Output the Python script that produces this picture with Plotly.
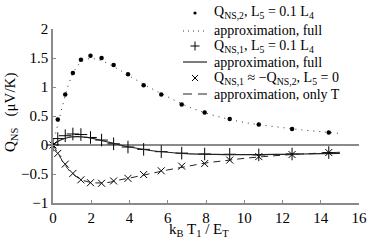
import plotly.graph_objects as go

# measured points (x positions shared by all three marker series)
x_pts = [0, 0.25, 0.64, 1.04, 1.46, 1.96, 2.54, 3.17, 3.92, 4.74, 5.66, 6.73, 7.93, 9.24, 10.76, 12.5, 14.42]
q2_full = [0, 0.44, 0.87, 1.24, 1.47, 1.54, 1.50, 1.38, 1.22, 1.03, 0.87, 0.70, 0.56, 0.45, 0.355, 0.275, 0.215]
q1_full = [0, 0.11, 0.16, 0.19, 0.18, 0.13, 0.085, 0.02, -0.035, -0.075, -0.115, -0.14, -0.155, -0.16, -0.17, -0.155, -0.13]
q1_l5zero = [0, -0.145, -0.33, -0.49, -0.60, -0.65, -0.66, -0.62, -0.575, -0.51, -0.445, -0.365, -0.32, -0.26, -0.2, -0.165, -0.13]

# approximation curves
xa_dot = [0, 0.1, 0.25, 0.5, 0.75, 1.0, 1.25, 1.5, 1.75, 2.0, 2.25, 2.5, 3, 3.5, 4, 5, 6, 7, 8, 9, 10, 11, 12, 13, 14, 15]
ya_dot = [0, 0.15, 0.35, 0.68, 0.98, 1.2, 1.35, 1.44, 1.48, 1.49, 1.48, 1.46, 1.38, 1.29, 1.19, 1.0, 0.83, 0.67, 0.55, 0.46, 0.39, 0.34, 0.3, 0.26, 0.23, 0.2]
xa_sol = [0, 0.25, 0.5, 0.75, 1, 1.25, 1.5, 2, 2.5, 3, 3.5, 4, 5, 6, 7, 8, 9, 10, 11, 12, 13, 14, 15]
ya_sol = [0, 0.06, 0.1, 0.125, 0.14, 0.145, 0.14, 0.12, 0.08, 0.04, 0.0, -0.035, -0.09, -0.125, -0.15, -0.16, -0.165, -0.165, -0.165, -0.16, -0.155, -0.15, -0.145]
xa_dash = [0, 0.25, 0.5, 0.75, 1, 1.5, 2, 2.5, 3, 3.5, 4, 5, 6, 7, 8, 9, 10, 11, 12, 13, 14, 15]
ya_dash = [0, -0.14, -0.28, -0.4, -0.49, -0.6, -0.645, -0.655, -0.64, -0.6, -0.57, -0.5, -0.43, -0.37, -0.31, -0.27, -0.23, -0.2, -0.175, -0.155, -0.14, -0.125]

x_ticks = [0, 2, 4, 6, 8, 10, 12, 14, 16]
y_ticks = [-1, -0.5, 0, 0.5, 1, 1.5, 2]
y_labels = ["\u22121", "\u22120.5", "0", "0.5", "1", "1.5", "2"]

names = [
    "Q<sub>NS,2</sub>, L<sub>5</sub> = 0.1 L<sub>4</sub>",
    "approximation, full",
    "Q<sub>NS,1</sub>, L<sub>5</sub> = 0.1 L<sub>4</sub>",
    "approximation, full",
    "Q<sub>NS,1</sub> \u2248 \u2212Q<sub>NS,2</sub>, L<sub>5</sub> = 0",
    "approximation, only T",
]

W, H = 386, 245
ML, MR, MT, MB = 53, 27, 29, 42
PW, PH = W - ML - MR, H - MT - MB


def px(xp):
    return (xp - ML) / PW


def py(yp):
    return (H - MB - yp) / PH


fig = go.Figure()
fig.add_trace(go.Scatter(x=x_pts, y=q2_full, mode="markers", name=names[0],
                         marker=dict(symbol="circle", size=4.5, color="black"), cliponaxis=False))
fig.add_trace(go.Scatter(x=xa_dot, y=ya_dot, mode="lines", name=names[1],
                         line=dict(color="#333", width=1, dash="1px,5px", shape="spline")))
fig.add_trace(go.Scatter(x=x_pts, y=q1_full, mode="markers", name=names[2],
                         marker=dict(symbol="cross-thin", size=9, color="black",
                                     line=dict(width=1, color="black")), cliponaxis=False))
fig.add_trace(go.Scatter(x=xa_sol, y=ya_sol, mode="lines", name=names[3],
                         line=dict(color="#222", width=1.2, shape="spline")))
fig.add_trace(go.Scatter(x=x_pts, y=q1_l5zero, mode="markers", name=names[4],
                         marker=dict(symbol="x-thin", size=7, color="black",
                                     line=dict(width=1, color="black")), cliponaxis=False))
fig.add_trace(go.Scatter(x=xa_dash, y=ya_dash, mode="lines", name=names[5],
                         line=dict(color="#222", width=1, dash="7px,5px", shape="spline")))

font = "Liberation Serif, Times New Roman, serif"
axis_col = "#8a8a8a"

# manual legend (placed in pixel positions converted to paper coords)
row_y = [13, 31, 46, 62, 78, 94]
text_x = 212
mark_x = 195
samp_x0, samp_x1 = 183, 207
annotations = []
shapes = []
for name, yy in zip(names, row_y):
    annotations.append(dict(text=name, xref="paper", yref="paper", x=px(text_x), y=py(yy),
                            xanchor="left", yanchor="middle", showarrow=False,
                            font=dict(size=14, family=font, color="black")))
# dot marker
shapes.append(dict(type="circle", xref="paper", yref="paper",
                   x0=px(mark_x - 1.6), x1=px(mark_x + 1.6), y0=py(row_y[0] + 1.6), y1=py(row_y[0] - 1.6),
                   fillcolor="black", line=dict(width=0)))
# dotted sample
shapes.append(dict(type="line", xref="paper", yref="paper", x0=px(samp_x0), x1=px(samp_x1),
                   y0=py(row_y[1]), y1=py(row_y[1]), line=dict(color="#333", width=1, dash="1px,4px")))
# plus marker
shapes.append(dict(type="line", xref="paper", yref="paper", x0=px(mark_x - 4.5), x1=px(mark_x + 4.5),
                   y0=py(row_y[2]), y1=py(row_y[2]), line=dict(color="black", width=1)))
shapes.append(dict(type="line", xref="paper", yref="paper", x0=px(mark_x), x1=px(mark_x),
                   y0=py(row_y[2] - 4.5), y1=py(row_y[2] + 4.5), line=dict(color="black", width=1)))
# solid sample
shapes.append(dict(type="line", xref="paper", yref="paper", x0=px(samp_x0), x1=px(samp_x1),
                   y0=py(row_y[3]), y1=py(row_y[3]), line=dict(color="#222", width=1.2)))
# x marker
shapes.append(dict(type="line", xref="paper", yref="paper", x0=px(mark_x - 3), x1=px(mark_x + 3),
                   y0=py(row_y[4] - 3), y1=py(row_y[4] + 3), line=dict(color="black", width=1)))
shapes.append(dict(type="line", xref="paper", yref="paper", x0=px(mark_x - 3), x1=px(mark_x + 3),
                   y0=py(row_y[4] + 3), y1=py(row_y[4] - 3), line=dict(color="black", width=1)))
# dashed sample
shapes.append(dict(type="line", xref="paper", yref="paper", x0=px(samp_x0), x1=px(samp_x1),
                   y0=py(row_y[5]), y1=py(row_y[5]), line=dict(color="#222", width=1, dash="9px,6px")))

# axis titles
annotations.append(dict(text="k<sub>B</sub> T<sub>1</sub> / E<sub>T</sub>", xref="paper", yref="paper",
                        x=px(199), y=py(230), xanchor="center", yanchor="middle", showarrow=False,
                        font=dict(size=15, family=font, color="black")))
annotations.append(dict(text="Q<sub>NS</sub>   (\u03bcV/K)", xref="paper", yref="paper",
                        x=px(11), y=py(112), xanchor="center", yanchor="middle", textangle=-90,
                        showarrow=False, font=dict(size=15, family=font, color="black")))

fig.update_layout(
    width=W, height=H,
    margin=dict(l=ML, r=MR, t=MT, b=MB, autoexpand=False),
    paper_bgcolor="white", plot_bgcolor="white",
    font=dict(family=font, size=15, color="black"),
    showlegend=False,
    hovermode=False,
    xaxis=dict(range=[0, 16], tickvals=x_ticks, ticktext=[str(v) for v in x_ticks],
               showgrid=False, zeroline=False, showline=True, linecolor=axis_col, linewidth=1.5,
               ticks="inside", ticklen=3, tickcolor=axis_col, mirror=False, automargin=False),
    yaxis=dict(range=[-1, 2], tickvals=y_ticks, ticktext=y_labels,
               showgrid=False, zeroline=True, zerolinecolor=axis_col, zerolinewidth=1.5,
               showline=True, linecolor=axis_col, linewidth=1.5,
               ticks="inside", ticklen=3, tickcolor=axis_col, mirror=False, automargin=False),
    annotations=annotations,
    shapes=shapes,
)

fig.write_html("out.html", config={"displayModeBar": False},
               post_script="document.body.style.margin='0px';")
